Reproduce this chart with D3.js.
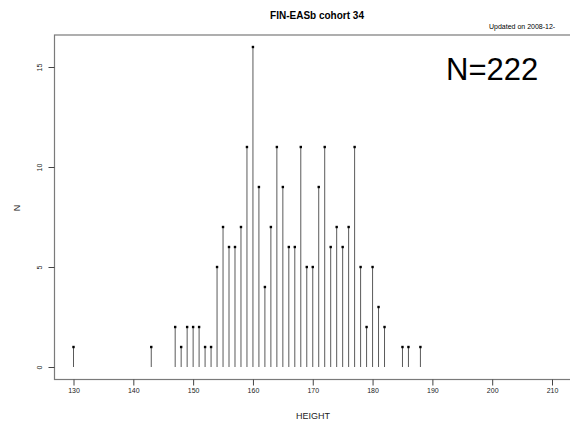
<!DOCTYPE html>
<html>
<head>
<meta charset="utf-8">
<title>FIN-EASb cohort 34</title>
<script src="https://d3js.org/d3.v7.min.js"></script>
<style>
  body { margin: 0; background: #fff; }
  text { font-family: "Liberation Sans", Arial, sans-serif; }
</style>
</head>
<body>
<script>
// heights (cm) and counts
const heights = [130, 143, 147, 148, 149, 150, 151, 152, 153, 154, 155, 156, 157, 158, 159, 160,
  161, 162, 163, 164, 165, 166, 167, 168, 169, 170, 171, 172, 173, 174, 175, 176, 177, 178,
  179, 180, 181, 182, 185, 186, 188];
const counts = [1, 1, 2, 1, 2, 2, 2, 1, 1, 5, 7, 6, 6, 7, 11, 16,
  9, 4, 7, 11, 9, 6, 6, 11, 5, 5, 9, 11, 6, 7, 6, 7, 11, 5,
  2, 5, 3, 2, 1, 1, 1];
const xTicks = [130, 140, 150, 160, 170, 180, 190, 200, 210];
const yTicks = [0, 5, 10, 15];
const titleText = "FIN-EASb cohort 34";
const updatedText = "Updated on 2008-12-";
const nText = "N=222";

const w = 570, h = 423;
const svg = d3.select("body").append("svg").attr("width", w).attr("height", h);

const x = d3.scaleLinear().domain([130, 210]).range([73.5, 552]);
const y = d3.scaleLinear().domain([0, 16]).range([367, 47]);

// frame (goes off the right edge like the original)
svg.append("rect")
  .attr("x", 54.5).attr("y", 35).attr("width", 540).attr("height", 344.5)
  .attr("fill", "none").attr("stroke", "#7a7a7a").attr("stroke-width", 1.2);

const xAxis = d3.axisBottom(x).tickValues(xTicks).tickSize(6).tickPadding(3);
const gx = svg.append("g").attr("transform", "translate(0,379.5)").call(xAxis);
gx.select(".domain").remove();
gx.selectAll("line").attr("stroke", "#444");
gx.selectAll("text").attr("font-size", 7).attr("fill", "#222");

const yAxis = d3.axisLeft(y).tickValues(yTicks).tickSize(6).tickPadding(0);
const gy = svg.append("g").attr("transform", "translate(54.5,0)").call(yAxis);
gy.select(".domain").remove();
gy.selectAll("line").attr("stroke", "#444");
gy.selectAll("text")
  .attr("font-size", 7).attr("fill", "#222")
  .attr("text-anchor", "middle")
  .attr("transform", "translate(-15,0) rotate(-90)")
  .attr("x", 0).attr("y", 0).attr("dy", "0.35em");

// stems
svg.selectAll("line.stem").data(heights).enter().append("line")
  .attr("class", "stem")
  .attr("x1", d => x(d)).attr("x2", d => x(d))
  .attr("y1", y(0)).attr("y2", (d, i) => y(counts[i]))
  .attr("stroke", "#5a5a5a").attr("stroke-width", 1);

svg.selectAll("rect.pt").data(heights).enter().append("rect")
  .attr("class", "pt")
  .attr("x", d => x(d) - 1.2).attr("y", (d, i) => y(counts[i]) - 1.2)
  .attr("width", 2.4).attr("height", 2.4).attr("fill", "#000");

// texts
svg.append("text").attr("x", 317).attr("y", 19).attr("text-anchor", "middle")
  .attr("font-size", 10).attr("font-weight", "bold").text(titleText);
svg.append("text").attr("x", 489).attr("y", 29)
  .attr("font-size", 7).text(updatedText);
svg.append("text").attr("x", 446).attr("y", 80)
  .attr("font-size", 31).text(nText);
svg.append("text").attr("x", 313).attr("y", 419).attr("text-anchor", "middle")
  .attr("font-size", 9).attr("fill", "#222").text("HEIGHT");
svg.append("text").attr("transform", "translate(20,208) rotate(-90)")
  .attr("text-anchor", "middle").attr("font-size", 9).attr("fill", "#222").text("N");
</script>
</body>
</html>
